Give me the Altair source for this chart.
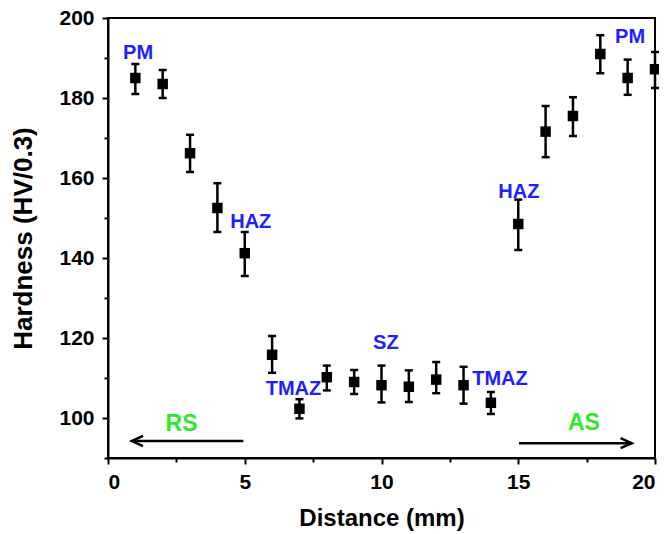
import altair as alt
import pandas as pd

# Data
distance = [1, 2, 3, 4, 5, 6, 7, 8, 9, 10, 11, 12, 13, 14, 15, 16, 17, 18, 19, 20]
hardness = [185.0, 183.5, 166.2, 152.5, 141.2, 115.8, 102.3, 110.2, 109.0, 108.2,
            107.8, 109.6, 108.2, 103.8, 148.5, 171.6, 175.5, 191.0, 185.0, 187.2]
err_hi = [188.5, 187.0, 170.8, 158.7, 146.5, 120.5, 104.7, 113.1, 112.0, 113.1,
          111.9, 114.0, 112.8, 106.5, 154.6, 178.0, 180.2, 195.7, 189.6, 191.5]
err_lo = [181.0, 180.0, 161.5, 146.5, 135.5, 111.3, 99.9, 106.9, 106.0, 103.9,
          104.0, 106.2, 103.6, 101.0, 142.0, 165.2, 170.5, 186.2, 180.8, 182.5]

zone_labels = ["PM", "HAZ", "TMAZ", "SZ", "TMAZ", "HAZ", "PM"]
zone_x = [1.1, 5.22, 6.78, 10.16, 14.33, 15.02, 19.09]
zone_y = [191.4, 149.3, 107.4, 118.9, 110.1, 156.8, 195.4]

side_labels = ["RS", "AS"]
side_x = [2.69, 17.4]
side_y = [98.8, 99.1]

arrow_start = [4.95, 15.03]
arrow_end = [0.87, 19.15]
arrow_y = [94.25, 93.7]

x_major = [0, 5, 10, 15, 20]
x_minor = [2.5, 7.5, 12.5, 17.5]
y_major = [100, 120, 140, 160, 180, 200]
y_minor = [90, 110, 130, 150, 170, 190]

df = pd.DataFrame({"d": distance, "h": hardness, "hi": err_hi, "lo": err_lo})
zones = pd.DataFrame({"t": zone_labels, "x": zone_x, "y": zone_y})
sides = pd.DataFrame({"t": side_labels, "x": side_x, "y": side_y})
arrows = pd.DataFrame({"x1": arrow_start, "x2": arrow_end, "y": arrow_y})
minor_df = pd.DataFrame({"mx": x_minor + [x_minor[0]] * 2, "my": y_minor})

FONT = "Liberation Sans"
xs = alt.Scale(domain=[0, 20], nice=False, zero=False)
ys = alt.Scale(domain=[90, 200], nice=False, zero=False)

x_axis = alt.Axis(
    values=x_major, title="Distance (mm)", grid=False, orient="bottom",
    tickSize=6, labelPadding=7, titlePadding=14, titleFontSize=24,
)
y_axis = alt.Axis(
    values=y_major, title="Hardness (HV/0.3)", grid=False, orient="left",
    tickSize=6, labelPadding=8, titlePadding=22, titleFontSize=26,
)
x_minor_axis = alt.Axis(
    values=x_minor, labels=False, title=None, domain=False, grid=False,
    orient="bottom", tickSize=4,
)
y_minor_axis = alt.Axis(
    values=y_minor, labels=False, title=None, domain=False, grid=False,
    orient="left", tickSize=4,
)

minor = alt.Chart(minor_df).mark_point(opacity=0).encode(
    x=alt.X("mx:Q", scale=xs, axis=x_minor_axis),
    y=alt.Y("my:Q", scale=ys, axis=y_minor_axis),
)
points = alt.Chart(df).mark_square(size=110, color="black", opacity=1).encode(
    x=alt.X("d:Q", scale=xs, axis=x_axis),
    y=alt.Y("h:Q", scale=ys, axis=y_axis),
)
bars = alt.Chart(df).mark_rule(color="black", strokeWidth=2.5).encode(
    x=alt.X("d:Q", axis=None), y=alt.Y("lo:Q", axis=None), y2="hi:Q"
)
cap_hi = alt.Chart(df).mark_tick(color="black", orient="horizontal", size=8, thickness=2.5, opacity=1).encode(
    x=alt.X("d:Q", axis=None), y=alt.Y("hi:Q", axis=None)
)
cap_lo = alt.Chart(df).mark_tick(color="black", orient="horizontal", size=8, thickness=2.5, opacity=1).encode(
    x=alt.X("d:Q", axis=None), y=alt.Y("lo:Q", axis=None)
)
zone_text = alt.Chart(zones).mark_text(
    font=FONT, fontSize=20, fontWeight="bold", color="#1e1eff", baseline="middle", align="center", dy=1
).encode(x=alt.X("x:Q", axis=None), y=alt.Y("y:Q", axis=None), text="t:N")
side_text = alt.Chart(sides).mark_text(
    font=FONT, fontSize=23, fontWeight="bold", color="#2ee82e", baseline="middle", align="center", dy=1
).encode(x=alt.X("x:Q", axis=None), y=alt.Y("y:Q", axis=None), text="t:N")
arrow_lines = alt.Chart(arrows).mark_rule(color="black", strokeWidth=2.5).encode(
    x=alt.X("x1:Q", axis=None), x2="x2:Q", y=alt.Y("y:Q", axis=None)
)
left_head = alt.Chart(arrows.iloc[[0]]).mark_point(
    shape="M 1 -0.45 L 0 0 L 1 0.45", size=500, filled=False, color="black", strokeWidth=2.5, opacity=1
).encode(x=alt.X("x2:Q", axis=None), y=alt.Y("y:Q", axis=None))
right_head = alt.Chart(arrows.iloc[[1]]).mark_point(
    shape="M -1 -0.45 L 0 0 L -1 0.45", size=500, filled=False, color="black", strokeWidth=2.5, opacity=1
).encode(x=alt.X("x2:Q", axis=None), y=alt.Y("y:Q", axis=None))

chart = alt.layer(
    minor, arrow_lines, left_head, right_head, bars, cap_hi, cap_lo, points, zone_text, side_text
).resolve_axis(
    x="independent", y="independent"
).properties(
    width=547, height=440,
    autosize=alt.AutoSizeParams(type="none"),
    padding={"left": 100, "top": 10, "right": 4, "bottom": 74},
).configure_view(
    stroke="black", strokeWidth=2
).configure_axis(
    domainColor="black", domainWidth=2, tickColor="black", tickWidth=2,
    labelFont=FONT, labelFontSize=21, labelFontWeight="bold", labelColor="black",
    titleFont=FONT, titleFontWeight="bold", titleColor="black",
)

chart.save("out.html", embed_options={"renderer": "svg", "actions": False})
